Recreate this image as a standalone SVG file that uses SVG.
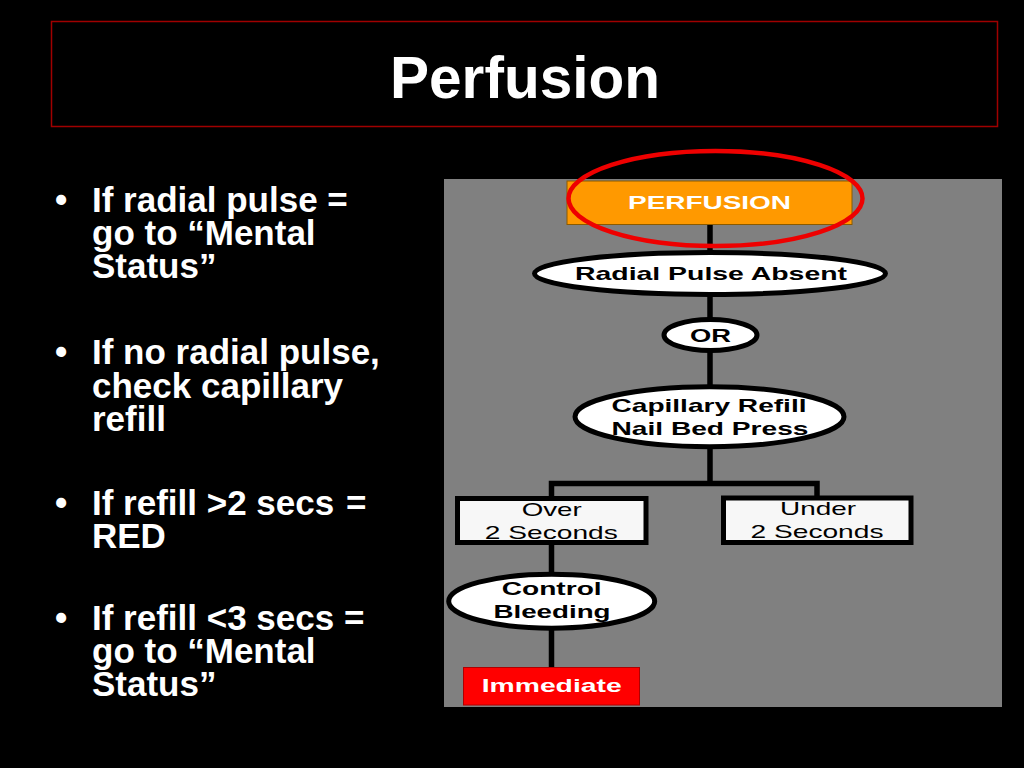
<svg xmlns="http://www.w3.org/2000/svg" width="1024" height="768" viewBox="0 0 1024 768">
<style>
.bul{font-family:"Liberation Sans",Arial,sans-serif;font-weight:bold;font-size:35px;fill:#fff}
.nt{font-family:"Liberation Sans",Arial,sans-serif;font-size:19px;text-anchor:middle;fill:#000}
.b{font-weight:bold}
.w{fill:#fff}
.oval{fill:#fff;stroke:#000;stroke-width:5}
.box{fill:#f7f7f7;stroke:#000;stroke-width:5}
.conn{fill:none;stroke:#000;stroke-width:5.5}
</style>
<rect x="0" y="0" width="1024" height="768" fill="#000"/>
<g id="title">
<rect x="51.5" y="21.5" width="946" height="105" fill="none" stroke="#a00000" stroke-width="1.5"/>
<text x="525" y="98" font-family="'Liberation Sans',Arial,sans-serif" font-weight="bold" font-size="59" fill="#fff" text-anchor="middle" textLength="270" lengthAdjust="spacingAndGlyphs">Perfusion</text>
</g>
<g id="bullets" class="bul">
<text x="55" y="212">•</text>
<text x="92" y="212">If radial pulse =</text>
<text x="92" y="245">go to “Mental</text>
<text x="92" y="278">Status”</text>
<text x="55" y="364">•</text>
<text x="92" y="364">If no radial pulse,</text>
<text x="92" y="397.5">check capillary</text>
<text x="92" y="431">refill</text>
<text x="55" y="515">•</text>
<text x="92" y="515">If refill &gt;2 secs<tspan x="346">=</tspan></text>
<text x="92" y="548">RED</text>
<text x="55" y="630">•</text>
<text x="92" y="630">If refill &lt;3 secs =</text>
<text x="92" y="663">go to “Mental</text>
<text x="92" y="696">Status”</text>
</g>
<rect id="panel" x="444" y="179" width="558" height="528" fill="#808080"/>
<g id="connectors" class="conn">
<line x1="710" y1="224" x2="710" y2="253"/>
<line x1="710" y1="295" x2="710" y2="320"/>
<line x1="710" y1="351" x2="710" y2="387"/>
<path d="M710 447 V483.5 H551.5 V498 M710 483.5 H817 V498"/>
<line x1="551.5" y1="544" x2="551.5" y2="574"/>
<line x1="551.5" y1="629" x2="551.5" y2="668"/>
</g>
<g id="perfusion">
<rect x="567" y="181" width="285" height="43.5" fill="#ff9900" stroke="#8a5a00" stroke-width="1"/>
<text class="nt b w" x="709.5" y="208.5" font-size="19.5" textLength="163" lengthAdjust="spacingAndGlyphs">PERFUSION</text>
</g>
<g id="radial">
<ellipse class="oval" cx="710" cy="273.5" rx="175.5" ry="21"/>
<text class="nt b" x="711" y="279.5" textLength="272" lengthAdjust="spacingAndGlyphs">Radial Pulse Absent</text>
</g>
<g id="or">
<ellipse class="oval" cx="710.5" cy="335" rx="46.5" ry="15.5"/>
<text class="nt b" x="710.5" y="341.7" textLength="41" lengthAdjust="spacingAndGlyphs">OR</text>
</g>
<g id="capillary">
<ellipse class="oval" cx="709.5" cy="416.7" rx="134.5" ry="30"/>
<text class="nt b" x="709" y="411.7" textLength="195" lengthAdjust="spacingAndGlyphs">Capillary Refill</text>
<text class="nt b" x="710" y="434.5" textLength="197" lengthAdjust="spacingAndGlyphs">Nail Bed Press</text>
</g>
<g id="over">
<rect class="box" x="457.5" y="498.5" width="188.5" height="44"/>
<text class="nt" x="551.7" y="516" textLength="60" lengthAdjust="spacingAndGlyphs">Over</text>
<text class="nt" x="551.3" y="539.3" textLength="133" lengthAdjust="spacingAndGlyphs">2 Seconds</text>
</g>
<g id="under">
<rect class="box" x="723.5" y="498" width="187.5" height="44.5"/>
<text class="nt" x="818" y="515" textLength="76" lengthAdjust="spacingAndGlyphs">Under</text>
<text class="nt" x="817" y="537.7" textLength="133" lengthAdjust="spacingAndGlyphs">2 Seconds</text>
</g>
<g id="control">
<ellipse class="oval" cx="551.7" cy="601.2" rx="103" ry="27"/>
<text class="nt b" x="551.7" y="595" textLength="100" lengthAdjust="spacingAndGlyphs">Control</text>
<text class="nt b" x="552" y="618.3" textLength="117" lengthAdjust="spacingAndGlyphs">Bleeding</text>
</g>
<g id="immediate">
<rect x="463.5" y="667.5" width="176" height="37.5" fill="#ff0000" stroke="#b00000" stroke-width="1"/>
<text class="nt b w" x="551.7" y="691.7" textLength="140" lengthAdjust="spacingAndGlyphs">Immediate</text>
</g>
<ellipse id="highlight" cx="715.5" cy="198.5" rx="147" ry="47.5" fill="none" stroke="#ee0000" stroke-width="4.5"/>
</svg>
